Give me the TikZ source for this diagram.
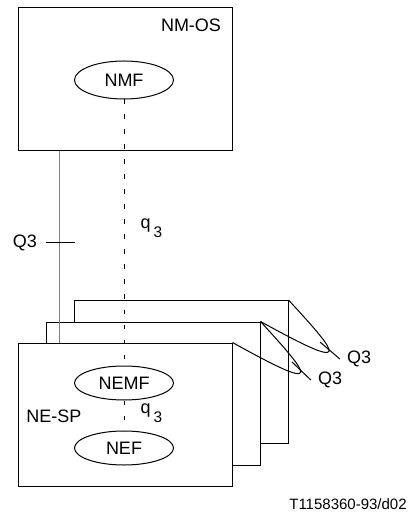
\documentclass[tikz,border=0pt]{standalone}
\usepackage{fontspec}
\setmainfont{Liberation Sans}
\usetikzlibrary{arrows,shapes}

\begin{document}
\begin{tikzpicture}[x=0.5pt,y=-0.5pt,line width=0.5pt,
                    font=\fontsize{9}{11}\selectfont]
  \tikzstyle{block}=[draw,fill=white,inner sep=0pt,minimum width=107pt,minimum height=71.5pt]
  \tikzstyle{func}=[draw,ellipse,inner sep=0pt,minimum width=49.5pt,minimum height=17pt]
  \tikzstyle{qlink}=[dash pattern=on 2.25pt off 5.25pt]
  \tikzstyle{qlabel}=[anchor=base west,inner sep=0pt]
  \newcommand{\qthree}{q\hspace{1.5pt}\raisebox{-4.5pt}{\fontsize{7.7}{9}\selectfont 3}}

  \useasboundingbox (0,0) rectangle (413,512);

  % managing system
  \node[block]        (os)   at (125,79.5) {};
  \node               (osl)  at (191,25) {NM-OS};
  \node[func,minimum height=19pt] (nmf) at (124,80) {NMF};

  % stack of network elements
  \node[block]        (ne3)  at (181,372) {};
  \node[block]        (ne2)  at (153,393.5) {};
  \node[block]        (ne1)  at (125,414.5) {};
  \node[func]         (nemf) at (124,383) {NEMF};
  \node[func]         (nef)  at (124,448) {NEF};
  \node               (nesp) at (54,416) {NE-SP};

  % interfaces
  \draw[gray] ([xshift=21pt]os.south west) -- ([xshift=21pt]ne1.north west);
  \coordinate (tick) at (60.5,243);
  \draw ([xshift=-7.25pt]tick) -- ([xshift=7.25pt]tick);
  \node (q3l) at (25,243) {Q3};

  \draw[qlink] (nmf) -- (nemf);
  \draw[qlink] (nemf) -- (nef);
  \node[qlabel] (q3u) at (140,229) {\qthree};
  \node[qlabel] (q3d) at (140,413) {\qthree};

  % loops
  \draw (ne3.north east) .. controls (342,358) and (352,372) .. (ne2.north east);
  \draw (ne2.north east) .. controls (312,378) and (325,394) .. (ne1.north east);
  \coordinate (t1) at (320,342);
  \coordinate (t2) at (292,362);
  \node (q3a) at (359,359) {Q3};
  \node (q3b) at (330,380) {Q3};
  \draw (t1) -- (q3a.west);
  \draw (t2) -- (q3b.west);

  \node (fig) at (348,504) {\fontsize{7.5}{9}\selectfont T1158360-93/d02};
\end{tikzpicture}
\end{document}
